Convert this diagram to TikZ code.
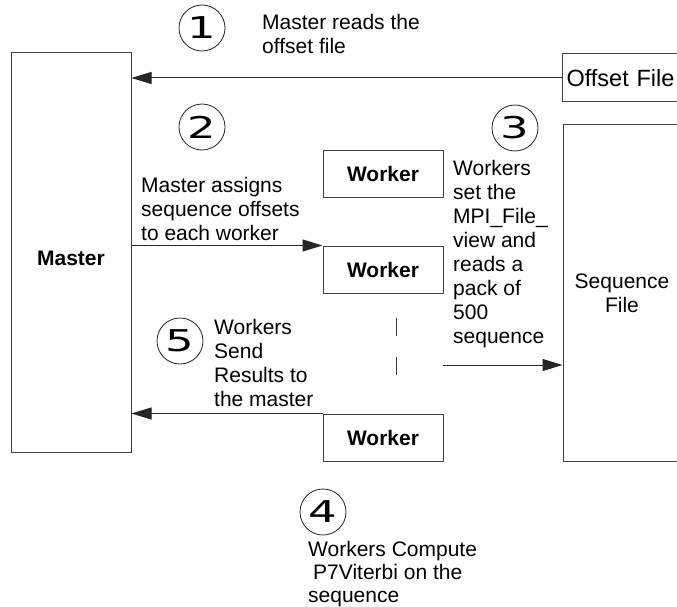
\documentclass[tikz,border=0pt]{standalone}
\usepackage{fontspec}
\setmainfont{Liberation Sans}
\newfontfamily\digitfont{DejaVu Sans}
\usetikzlibrary{arrows.meta}
\newcommand{\cnum}[1]{\scalebox{1.5}[1]{#1}}
\tikzset{
	box/.style={draw=black!75, line width=1pt, inner sep=0pt},
	worker/.style={box, minimum width=120pt, minimum height=47pt, font=\fontsize{21}{24}\selectfont\bfseries},
	numcirc/.style={draw=black!85, circle, line width=0.8pt, minimum size=46pt, inner sep=0pt, font=\digitfont\fontsize{30}{30}\selectfont},
	note/.style={anchor=north west, inner sep=0pt, align=left},
	msg/.style={draw=black!85, line width=1pt, -{Triangle[length=20pt,width=12pt]}}
}

\begin{document}
\begin{tikzpicture}[x=1pt, y=-1pt, font=\fontsize{21}{24}\selectfont]
			%%%%% START %%%%%
			\useasboundingbox (0,0) rectangle (677,607);
			
			\node[box, minimum width=120pt, minimum height=399pt, text height=27pt, font=\fontsize{21}{24}\selectfont\bfseries] (master) at (71,252.5) {Master};
			\node[box, anchor=west, minimum height=48pt, text width=120pt, inner xsep=4pt, align=left, font=\fontsize{23.5}{26}\selectfont] (offset) at (562,78) {Offset File};
			\node[box, minimum width=118pt, minimum height=336pt, align=center] (seq) at (622,293) {Sequence\\File};
			
			\node[worker] (worker1) at (383,173.5) {Worker};
			\node[worker] (worker2) at (383,269.5) {Worker};
			\node[worker] (worker3) at (383,437.5) {Worker};
			
			\node[numcirc] (one) at (202,28) {\cnum{1}};
			\node[numcirc] (two) at (202,127) {\cnum{2}};
			\node[numcirc] (three) at (515,128) {\cnum{3}};
			\node[numcirc] (four) at (323,512) {\cnum{4}};
			\node[numcirc] (five) at (180,341) {\cnum{5}};
			
			\node[note] (readnote) at (262,14.5) {Master reads the\\offset file};
			\node[note] (assignnote) at (141,177) {Master assigns\\sequence offsets\\to each worker};
			\node[note] (viewnote) at (453,160) {Workers\\set the\\MPI\_File\_\\view and\\reads a\\pack of\\500\\sequence};
			\node[note, font=\fontsize{21}{23}\selectfont] (computenote) at (308,541) {Workers Compute\\\hspace*{5pt}P7Viterbi on the\\sequence};
			\node[note] (sendnote) at (214,319.5) {Workers\\Send\\Results to\\the master};
			
			\draw[msg] (offset.west) -- (offset.west -| master.east);
			\draw[msg] (worker2.north west -| master.east) -- (worker2.north west);
			\coordinate (readpt) at (443,365);
			\draw[msg] (readpt) -- (readpt -| seq.west);
			\draw[msg] (worker3.north west) -- (worker3.north west -| master.east);
			
			\coordinate (gaptop) at (396,318);
			\coordinate (gapbot) at (396,375);
			\draw[black!80, line width=1pt, dash pattern=on 18pt off 21pt] (gaptop) -- (gapbot);
			%%%%% END %%%%%
\end{tikzpicture}
\end{document}
